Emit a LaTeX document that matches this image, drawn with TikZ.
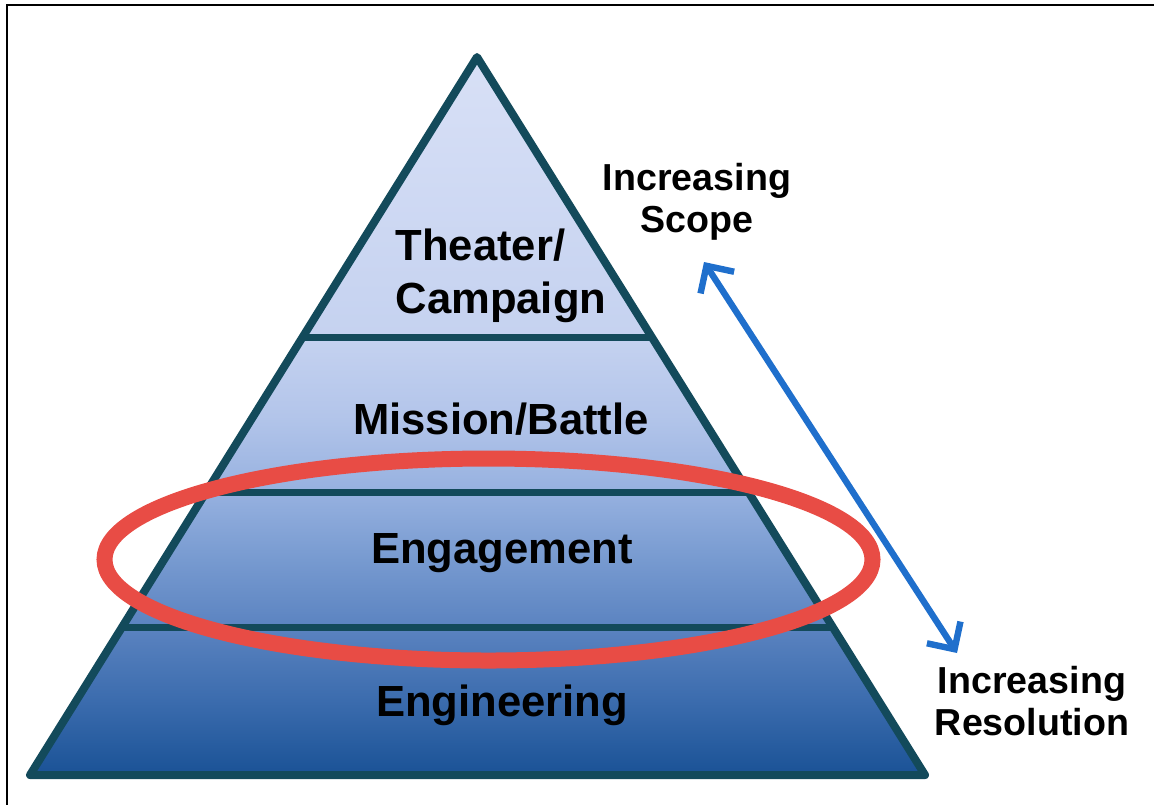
\documentclass[tikz,border=0pt]{standalone}
\usepackage{fontspec}
\setmainfont{Liberation Sans}
\usetikzlibrary{
	positioning,
	calc,
	arrows.meta
}
\definecolor{pyrline}{HTML}{134A5B}
\definecolor{ringred}{HTML}{E84C45}
\definecolor{arrowblue}{HTML}{1F6FCC}
\definecolor{pyrA}{HTML}{1A5296}
\definecolor{pyrB}{HTML}{3A6BAD}
\definecolor{pyrC}{HTML}{5C84C1}
\definecolor{pyrD}{HTML}{779AD0}
\definecolor{pyrE}{HTML}{95B0DF}
\definecolor{pyrF}{HTML}{B3C5EA}
\definecolor{pyrG}{HTML}{C5D2F0}
\definecolor{pyrH}{HTML}{D8E0F6}
\pgfdeclareverticalshading{pyrshade}{100bp}{
	color(0bp)=(pyrA); color(25bp)=(pyrA); color(30bp)=(pyrB);
	color(35.5bp)=(pyrC); color(40bp)=(pyrD); color(44.5bp)=(pyrE);
	color(50bp)=(pyrF); color(55.5bp)=(pyrG); color(75bp)=(pyrH);
	color(100bp)=(pyrH)}

\begin{document}
\begin{tikzpicture}[x=0.5pt,y=-0.5pt,
	layer/.style={font=\fontsize{21.8}{26.5}\selectfont\bfseries,align=left},
	side/.style={font=\fontsize{18.8}{21}\selectfont\bfseries,align=center},
	sep/.style={draw=pyrline,line width=3.5pt},
	ring/.style={draw=ringred,line width=8pt},
	scalearrow/.style={draw=arrowblue,line width=3.2pt,{Straight Barb[length=10pt,width=20pt]}-{Straight Barb[length=10pt,width=20pt]}}
]
	\useasboundingbox (0,0) rectangle (1154,805);
	\draw[line width=1.2pt] (1154,5) -- (7,5) -- (7,805);

	% pyramid
	\coordinate (top) at (477,57);
	\coordinate (bl)  at (30,775);
	\coordinate (br)  at (925,775);
	\shade[shading=pyrshade] (top) -- (bl) -- (br) -- cycle;
	\foreach \t in {0.391,0.606,0.794}
		\draw[sep] ($(top)!\t!(bl)$) -- ($(top)!\t!(br)$);
	\draw[pyrline,line width=4pt,line join=round] (top) -- (bl) -- (br) -- cycle;

	\node[layer] (theater)     at (501,276) {Theater/\\Campaign};
	\node[layer] (mission)     at (501,419) {Mission/Battle};
	\node[layer] (engagement)  at (502,553) {Engagement};
	\node[layer] (engineering) at (502,705) {Engineering};

	% highlight
	\draw[ring] (488.5,559.5) ellipse [x radius=192pt,y radius=50.5pt];

	% scope vs resolution
	\node[side] (scope) at (697,202)  {Increasing\\Scope};
	\node[side] (res)   at (1032,701) {Increasing\\Resolution};
	\coordinate (scopetip) at (704,262);
	\coordinate (restip)   at (957,653);
	\draw[scalearrow] (scopetip) -- (restip);
\end{tikzpicture}
\end{document}
